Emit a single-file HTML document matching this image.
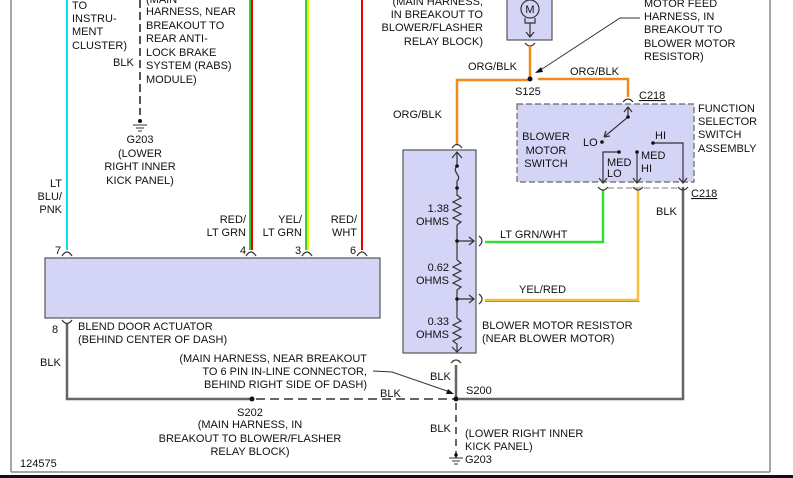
<!DOCTYPE html>
<html><head><meta charset="utf-8"><style>
body{margin:0;background:#fff;width:793px;height:478px;overflow:hidden}
svg{display:block}
text{font-family:"Liberation Sans",Arial,sans-serif;font-size:11px;fill:#111}
</style></head><body>
<svg width="793" height="478" viewBox="0 0 793 478">
<rect x="0" y="0" width="793" height="478" fill="#fff"/>
<line x1="11" y1="0" x2="11" y2="472" stroke="#888" stroke-width="1.5"/>
<line x1="770" y1="0" x2="770" y2="472" stroke="#888" stroke-width="1.5"/>
<line x1="11" y1="472" x2="770" y2="472" stroke="#888" stroke-width="1.5"/>
<rect x="0" y="475" width="793" height="3" fill="#111"/>

<line x1="67" y1="0" x2="67" y2="250" stroke="#00e5f0" stroke-width="2"/>
<line x1="250" y1="0" x2="250" y2="250" stroke="#3c3" stroke-width="2"/>
<line x1="252" y1="0" x2="252" y2="250" stroke="#e00" stroke-width="2"/>
<line x1="306" y1="0" x2="306" y2="250" stroke="#3c3" stroke-width="2"/>
<line x1="308" y1="0" x2="308" y2="250" stroke="#ee0" stroke-width="2"/>
<line x1="362" y1="0" x2="362" y2="250" stroke="#e00" stroke-width="2"/>
<line x1="140" y1="0" x2="140" y2="115" stroke="#555" stroke-width="2" stroke-dasharray="8,4"/>
<circle cx="140" cy="121" r="2" fill="#111"/>
<g stroke="#333" stroke-width="1"><line x1="133" y1="125" x2="147" y2="125"/><line x1="136" y1="128" x2="144" y2="128"/><line x1="138" y1="131" x2="142" y2="131"/></g>
<text x="72" y="9">TO</text><text x="72" y="22">INSTRU-</text><text x="72" y="35">MENT</text><text x="72" y="49">CLUSTER)</text>
<text x="113" y="66">BLK</text>
<text x="146" y="3">(MAIN</text><text x="146" y="15">HARNESS, NEAR</text><text x="146" y="29">BREAKOUT TO</text><text x="146" y="42">REAR ANTI-</text><text x="146" y="56">LOCK BRAKE</text><text x="146" y="69">SYSTEM (RABS)</text><text x="146" y="83">MODULE)</text>
<g text-anchor="middle"><text x="140" y="143">G203</text><text x="140" y="157">(LOWER</text><text x="140" y="170">RIGHT INNER</text><text x="140" y="184">KICK PANEL)</text></g>
<g text-anchor="end"><text x="62" y="187">LT</text><text x="62" y="200">BLU/</text><text x="62" y="213">PNK</text>
<text x="246" y="223">RED/</text><text x="246" y="236">LT GRN</text>
<text x="302" y="223">YEL/</text><text x="302" y="236">LT GRN</text>
<text x="357" y="223">RED/</text><text x="357" y="236">WHT</text></g>
<g fill="none" stroke="#333" stroke-width="1.2">
<path d="M62,256 Q67,248 72,256"/><path d="M246,256 Q251,248 256,256"/><path d="M302,256 Q307,248 312,256"/><path d="M357,256 Q362,248 367,256"/>
<path d="M62,320 Q67,327 72,320"/>
</g>
<text x="55" y="254">7</text><text x="240" y="254">4</text><text x="295" y="254">3</text><text x="350" y="254">6</text><text x="52" y="333">8</text>
<rect x="45" y="258" width="335" height="60" fill="#d4d4f7" stroke="#555" stroke-width="1.2"/>
<text x="78" y="330">BLEND DOOR ACTUATOR</text><text x="78" y="343">(BEHIND CENTER OF DASH)</text>
<text x="40" y="366">BLK</text>

<polyline points="67,324 67,399 252,399" fill="none" stroke="#666" stroke-width="2.5"/>
<line x1="256" y1="399" x2="454" y2="399" stroke="#666" stroke-width="2" stroke-dasharray="9,5"/>
<circle cx="252" cy="399" r="2.5" fill="#111"/>
<g text-anchor="middle"><text x="250" y="416">S202</text><text x="250" y="428">(MAIN HARNESS, IN</text><text x="250" y="442">BREAKOUT TO BLOWER/FLASHER</text><text x="250" y="455">RELAY BLOCK)</text></g>
<text x="20" y="467">124575</text>
<g text-anchor="end"><text x="367" y="362">(MAIN HARNESS, NEAR BREAKOUT</text><text x="367" y="375">TO 6 PIN IN-LINE CONNECTOR,</text><text x="367" y="388">BEHIND RIGHT SIDE OF DASH)</text></g>
<polyline points="373,371 392,372 450,392" fill="none" stroke="#333" stroke-width="1"/>
<path d="M448,389 L454,394 L446,394Z" fill="#111"/>
<text x="380" y="397">BLK</text>

<rect x="403" y="150" width="73" height="203" fill="#d4d4f7" stroke="#555" stroke-width="1.2"/>
<polyline points="457,145 457,80 528,80" fill="none" stroke="#f08a1a" stroke-width="2.5"/>
<path d="M452,148 Q457,141 462,148" fill="none" stroke="#333" stroke-width="1.2"/>
<g fill="none" stroke="#333" stroke-width="1.2">
<path d="M452,158 L457,152 L462,158 M457,152 L457,166"/>
<path d="M457,166 C451,172 463,176 457,181 L457,188"/>
<path d="M457,195 L461,198 L453,202 L461,206 L453,210 L461,214 L453,218 L461,222 L457,225"/>
<line x1="457" y1="188" x2="457" y2="196"/>
<line x1="457" y1="225" x2="457" y2="260"/>
<path d="M457,260 L461,263 L453,267 L461,271 L453,275 L461,279 L453,283 L461,287 L457,290 L457,318"/>
<path d="M457,318 L461,321 L453,325 L461,329 L453,333 L461,337 L453,341 L457,344 L457,352 M452,347 L457,352 L462,347"/>
<line x1="457" y1="241" x2="474" y2="241"/><path d="M469,237 L474,241 L469,245"/>
<line x1="457" y1="299" x2="474" y2="299"/><path d="M469,295 L474,299 L469,303"/>
<path d="M479,236 Q485,241 479,246"/><path d="M479,294 Q485,299 479,304"/>
<path d="M451,363 Q456,357 461,363"/>
</g>
<circle cx="457" cy="166" r="1.8" fill="#111"/><circle cx="457" cy="188" r="1.8" fill="#111"/>
<circle cx="457" cy="241" r="1.8" fill="#111"/><circle cx="457" cy="299" r="1.8" fill="#111"/>
<g text-anchor="end"><text x="449" y="212">1.38</text><text x="449" y="225">OHMS</text><text x="449" y="271">0.62</text><text x="449" y="284">OHMS</text><text x="449" y="325">0.33</text><text x="449" y="338">OHMS</text></g>
<text x="482" y="329">BLOWER MOTOR RESISTOR</text><text x="482" y="342">(NEAR BLOWER MOTOR)</text>
<polyline points="485,242 603,242 603,190" fill="none" stroke="#33dd33" stroke-width="2.5"/>
<text x="500" y="238">LT GRN/WHT</text>
<polyline points="485,300 638,300 638,190" fill="none" stroke="#f4c23a" stroke-width="2.5"/>
<polyline points="485,301.5 639.5,301.5" fill="none" stroke="#e44" stroke-width="0.8"/>
<text x="519" y="293">YEL/RED</text>

<line x1="456" y1="365" x2="456" y2="399" stroke="#666" stroke-width="2.5"/>
<line x1="456" y1="403" x2="456" y2="458" stroke="#666" stroke-width="2" stroke-dasharray="7,5"/>
<circle cx="456" cy="399" r="2.5" fill="#111"/>
<polyline points="458,399 683,399 683,187" fill="none" stroke="#666" stroke-width="2.5"/>
<text x="430" y="380">BLK</text><text x="466" y="394">S200</text>
<text x="430" y="432">BLK</text>
<text x="465" y="437">(LOWER RIGHT INNER</text><text x="465" y="450">KICK PANEL)</text>
<circle cx="456" cy="455" r="1.8" fill="#111"/>
<g stroke="#333" stroke-width="1"><line x1="449" y1="458" x2="463" y2="458"/><line x1="452" y1="461" x2="460" y2="461"/><line x1="454" y1="464" x2="458" y2="464"/></g>
<text x="465" y="463">G203</text>
<text x="656" y="215">BLK</text>

<rect x="507" y="-2" width="45" height="42" fill="#d4d4f7" stroke="#555" stroke-width="1.2"/>
<circle cx="530" cy="9" r="9" fill="none" stroke="#333" stroke-width="1.2"/>
<text x="530" y="13" text-anchor="middle">M</text>
<g fill="none" stroke="#333" stroke-width="1.2"><path d="M525,18 L525,23 L535,23 L535,18"/><line x1="530" y1="23" x2="530" y2="36"/><path d="M526,32 L530,37 L534,32"/><path d="M525,43 Q530,49 535,43"/></g>
<line x1="530" y1="46" x2="530" y2="77" stroke="#f08a1a" stroke-width="2.5"/>
<circle cx="530" cy="79" r="2.5" fill="#111"/>
<polyline points="538,79 628,79 628,97" fill="none" stroke="#f08a1a" stroke-width="2.5"/>
<text x="468" y="70">ORG/BLK</text><text x="570" y="75">ORG/BLK</text><text x="393" y="118">ORG/BLK</text>
<text x="515" y="95">S125</text>
<g text-anchor="end"><text x="483" y="5">(MAIN HARNESS,</text><text x="483" y="18">IN BREAKOUT TO</text><text x="483" y="31">BLOWER/FLASHER</text><text x="483" y="45">RELAY BLOCK)</text></g>
<text x="644" y="7">MOTOR FEED</text><text x="644" y="20">HARNESS, IN</text><text x="644" y="33">BREAKOUT TO</text><text x="644" y="47">BLOWER MOTOR</text><text x="644" y="60">RESISTOR)</text>
<polyline points="640,18 620,18 539,71" fill="none" stroke="#333" stroke-width="1"/>
<path d="M535,73 L541,67 L543,72Z" fill="#111"/>

<rect x="517" y="104" width="177" height="78" fill="#d4d4f7" stroke="#666" stroke-width="1.2" stroke-dasharray="6,3"/>
<path d="M623,102 Q628,96 633,102" fill="none" stroke="#333" stroke-width="1.2"/>
<text x="639" y="99" text-decoration="underline">C218</text>
<text x="698" y="112">FUNCTION</text><text x="698" y="125">SELECTOR</text><text x="698" y="138">SWITCH</text><text x="698" y="152">ASSEMBLY</text>
<g text-anchor="middle"><text x="546" y="140">BLOWER</text><text x="546" y="154">MOTOR</text><text x="546" y="167">SWITCH</text></g>
<g fill="none" stroke="#333" stroke-width="1.2">
<path d="M624,112 L628,107 L632,112 M628,107 L628,117 L604,137 M604,137 l2,-6 M604,137 l6,-1"/>
<polyline points="619,152 603,152 603,183"/><path d="M599,178 L603,183 L607,178"/>
<line x1="637" y1="152" x2="637" y2="183"/><path d="M633,178 L637,183 L641,178"/>
<polyline points="653,143 683,143 683,183"/><path d="M679,178 L683,183 L687,178"/>
<path d="M598,187 Q603,193 608,187"/><path d="M633,187 Q638,193 643,187"/><path d="M678,187 Q683,193 688,187"/>
</g>
<line x1="608" y1="188" x2="678" y2="188" stroke="#999" stroke-width="1.2" stroke-dasharray="6,3"/>
<circle cx="628" cy="117" r="1.8" fill="#111"/><circle cx="602" cy="142" r="1.8" fill="#111"/>
<circle cx="619" cy="152" r="1.8" fill="#111"/><circle cx="637" cy="152" r="1.8" fill="#111"/><circle cx="653" cy="143" r="1.8" fill="#111"/>
<text x="583" y="146">LO</text><text x="655" y="139">HI</text>
<text x="607" y="166">MED</text><text x="607" y="177">LO</text>
<text x="641" y="159">MED</text><text x="641" y="172">HI</text>
<text x="691" y="197" text-decoration="underline">C218</text>
</svg>
</body></html>
